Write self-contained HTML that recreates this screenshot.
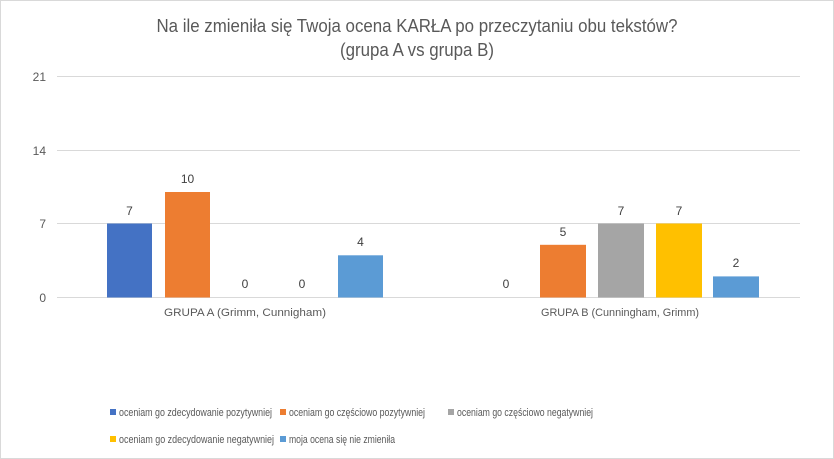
<!DOCTYPE html>
<html><head><meta charset="utf-8"><style>
body{margin:0;background:#fff}
svg{display:block;font-family:"Liberation Sans","DejaVu Sans",sans-serif}
</style></head><body>
<svg width="834" height="459" viewBox="0 0 834 459">
<rect x="0.5" y="0.5" width="833" height="458" fill="#fff" stroke="#d9d9d9"/>
<text x="417" y="32" text-anchor="middle" font-size="18" fill="#595959" textLength="521" lengthAdjust="spacingAndGlyphs">Na ile zmieniła się Twoja ocena KARŁA po przeczytaniu obu tekstów?</text>
<text x="417" y="56" text-anchor="middle" font-size="18" fill="#595959" textLength="154" lengthAdjust="spacingAndGlyphs">(grupa A vs grupa B)</text>
<g stroke="#d9d9d9" stroke-width="1">
<line x1="57" y1="76.5" x2="800" y2="76.5"/>
<line x1="57" y1="150.5" x2="800" y2="150.5"/>
<line x1="57" y1="223.5" x2="800" y2="223.5"/>
<line x1="57" y1="297.5" x2="800" y2="297.5"/>
</g>
<g font-size="12" fill="#595959" text-anchor="end">
<text x="46" y="81">21</text><text x="46" y="155">14</text><text x="46" y="228">7</text><text x="46" y="302">0</text>
</g>
<rect x="107" y="223.5" width="45" height="74" fill="#4472c4"/>
<rect x="165" y="192" width="45" height="105.5" fill="#ed7d31"/>
<rect x="338" y="255.3" width="45" height="42.2" fill="#5b9bd5"/>
<rect x="540" y="244.8" width="46" height="52.7" fill="#ed7d31"/>
<rect x="598" y="223.5" width="46" height="74" fill="#a5a5a5"/>
<rect x="656" y="223.5" width="46" height="74" fill="#ffc000"/>
<rect x="713" y="276.4" width="46" height="21.1" fill="#5b9bd5"/>
<g font-size="12" fill="#404040" text-anchor="middle">
<text x="129.5" y="215">7</text><text x="187.5" y="183">10</text>
<text x="245" y="288">0</text><text x="302" y="288">0</text>
<text x="360.5" y="246">4</text>
<text x="506" y="288">0</text><text x="563" y="236">5</text>
<text x="621" y="215">7</text><text x="679" y="215">7</text><text x="736" y="267">2</text>
</g>
<g font-size="11" fill="#595959" text-anchor="middle">
<text x="245" y="316" textLength="162" lengthAdjust="spacingAndGlyphs">GRUPA A (Grimm, Cunnigham)</text>
<text x="620" y="316" textLength="158" lengthAdjust="spacingAndGlyphs">GRUPA B (Cunningham, Grimm)</text>
</g>
<g font-size="11" fill="#595959" lengthAdjust="spacingAndGlyphs">
<rect x="110" y="409" width="6" height="6" fill="#4472c4"/><text x="119" y="416" textLength="153" lengthAdjust="spacingAndGlyphs">oceniam go zdecydowanie pozytywniej</text>
<rect x="280" y="409" width="6" height="6" fill="#ed7d31"/><text x="289" y="416" textLength="136" lengthAdjust="spacingAndGlyphs">oceniam go częściowo pozytywniej</text>
<rect x="448" y="409" width="6" height="6" fill="#a5a5a5"/><text x="457" y="416" textLength="136" lengthAdjust="spacingAndGlyphs">oceniam go częściowo negatywniej</text>
<rect x="110" y="436" width="6" height="6" fill="#ffc000"/><text x="119" y="443" textLength="155" lengthAdjust="spacingAndGlyphs">oceniam go zdecydowanie negatywniej</text>
<rect x="280" y="436" width="6" height="6" fill="#5b9bd5"/><text x="289" y="443" textLength="106" lengthAdjust="spacingAndGlyphs">moja ocena się nie zmieniła</text>
</g>
</svg>
</body></html>
